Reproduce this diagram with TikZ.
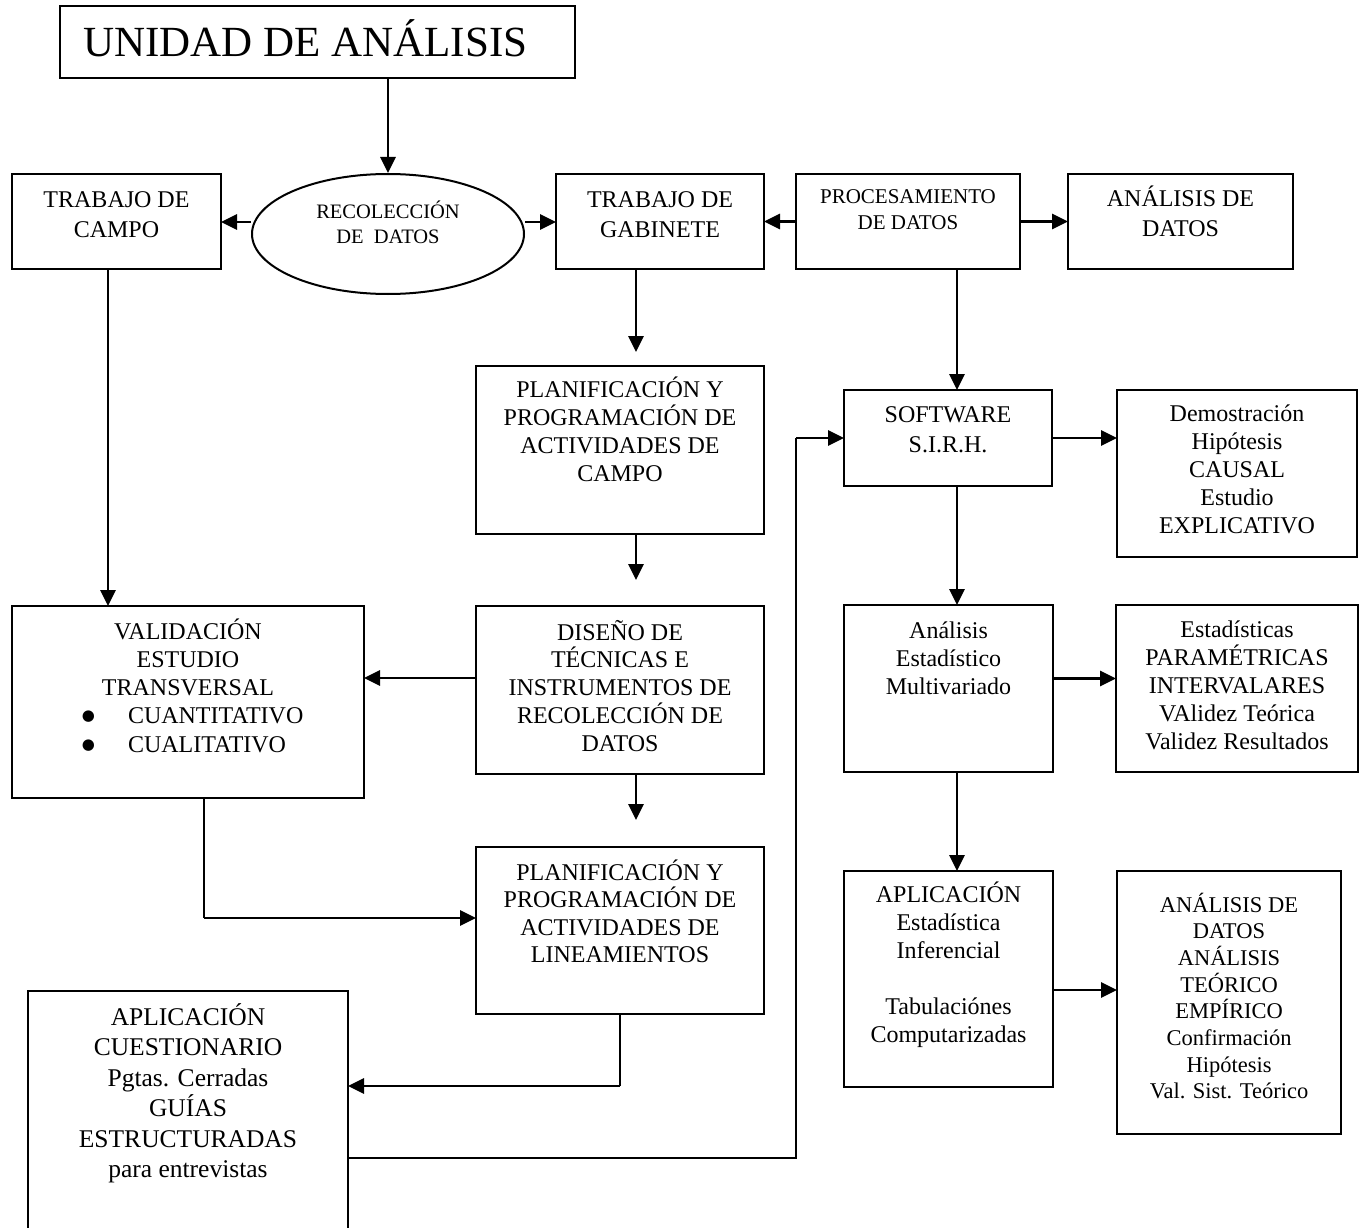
\documentclass[tikz,border=0pt]{standalone}
\usepackage{fontspec}
\setmainfont{Liberation Serif}
\newfontfamily\dotfont{DejaVu Sans}
\usetikzlibrary{arrows.meta,calc,shapes.geometric}

\tikzset{
  boxst/.style={draw, line width=2pt, inner sep=0pt, outer sep=0pt},
  arr/.style={line width=2.7pt, -{Triangle[length=16pt,width=15pt]}},
  conn/.style={line width=2pt},
}

% #1 name, #2 x1, #3 y1, #4 x2, #5 y2, #6 first baseline below top,
% #7 font size, #8 line skip, #9 text
\newcommand\tbox[9]{%
  \node[boxst, anchor=north west,
        minimum width={(#4-#2)*1pt}, minimum height={(#5-#3)*1pt}]
    (#1) at (#2,#3)
    {\begin{minipage}[t][\dimexpr #5pt-#3pt\relax][t]{\dimexpr #4pt-#2pt\relax}%
      \centering\fontsize{#7}{#8}\selectfont\rule{0pt}{#6pt}#9\end{minipage}};}

% list bullet used in the validation box
\newcommand\bigdot{\raisebox{3pt}{\dotfont\fontsize{15}{16}\selectfont ●}}

\begin{document}
\begin{tikzpicture}[x=1pt,y=-1pt]
\useasboundingbox (0,0) rectangle (1363,1228);
\clip (0,0) rectangle (1363,1228);

% title
\node[boxst, anchor=north west, minimum width=515pt, minimum height=72pt]
  (unidad) at (60,6)
  {\begin{minipage}[t][72pt][t]{515pt}\fontsize{43}{50}\selectfont
   \hspace*{23pt}\rule{0pt}{51pt}UNIDAD DE ANÁLISIS\end{minipage}};

% top row
\tbox{campo}{12}{174}{221}{269}{33}{24}{30}{TRABAJO DE\\CAMPO}
\node[draw, ellipse, line width=2pt, minimum width=272pt, minimum height=120pt,
      inner sep=0pt] (recol) at (388,234) {};
\node[anchor=base, inner sep=0pt] (recoltxt) at (388,218)
  {\parbox[t]{170pt}{\centering\fontsize{20.5}{25}\selectfont RECOLECCIÓN\\DE\ \ DATOS}};
\tbox{gab}{556}{174}{764}{269}{33}{24}{30}{TRABAJO DE\\GABINETE}
\tbox{proc}{796}{174}{1020}{269}{29}{21}{27}{PROCESAMIENTO\\DE DATOS}
\tbox{anal}{1068}{174}{1293}{269}{32}{24}{30}{ANÁLISIS DE\\DATOS}

% middle column
\tbox{plan1}{476}{366}{764}{534}{31}{24}{28.3}{PLANIFICACIÓN Y\\PROGRAMACIÓN DE\\ACTIVIDADES DE\\CAMPO}
\tbox{diseno}{476}{606}{764}{774}{34}{24}{27.8}{DISEÑO DE\\TÉCNICAS E\\INSTRUMENTOS DE\\RECOLECCIÓN DE\\DATOS}
\tbox{plan2}{476}{847}{764}{1014}{33}{24}{27.5}{PLANIFICACIÓN Y\\PROGRAMACIÓN DE\\ACTIVIDADES DE\\LINEAMIENTOS}

% left column
\tbox{valid}{12}{606}{364}{798}{33}{24}{28.3}{VALIDACIÓN\\ESTUDIO\\TRANSVERSAL\\
  \makebox[\linewidth][l]{\hspace*{70pt}\makebox[46pt][l]{\bigdot}CUANTITATIVO}\\
  \makebox[\linewidth][l]{\hspace*{70pt}\makebox[46pt][l]{\bigdot}CUALITATIVO}}
\tbox{cuest}{28}{991}{348}{1270}{34}{25.5}{30.5}{APLICACIÓN\\CUESTIONARIO\\Pgtas. Cerradas\\GUÍAS\\ESTRUCTURADAS\\para entrevistas}

% right columns
\tbox{soft}{844}{390}{1052}{486}{32}{24}{30}{SOFTWARE\\S.I.R.H.}
\tbox{demo}{1117}{390}{1357}{557}{31}{24}{28}{Demostración\\Hipótesis\\CAUSAL\\Estudio\\EXPLICATIVO}
\tbox{analest}{844}{605}{1053}{772}{33}{24}{28}{Análisis\\Estadístico\\Multivariado}
\tbox{estad}{1116}{605}{1358}{772}{32}{24}{28}{Estadísticas\\PARAMÉTRICAS\\INTERVALARES\\VAlidez Teórica\\Validez Resultados}
\tbox{aplic}{844}{871}{1053}{1087}{31}{24}{28}{APLICACIÓN\\Estadística\\Inferencial\\~\\Tabulaciónes\\Computarizadas}
\tbox{anal2}{1117}{871}{1341}{1134}{41}{22.5}{26.7}{ANÁLISIS DE\\DATOS\\ANÁLISIS\\TEÓRICO\\EMPÍRICO\\Confirmación\\Hipótesis\\Val. Sist. Teórico}

% routing columns and rows
\coordinate (cxa) at (636,0);
\coordinate (cxb) at (957,0);
\coordinate (cxc) at (108,0);
\coordinate (cxd) at (204,0);
\coordinate (cxe) at (796,0);
\coordinate (cya) at (0,918);
\coordinate (cyb) at (0,1086);
\coordinate (cyc) at (0,1158);

% connectors
\draw[arr] (unidad.south -| recol.north) -- (recol.north);
\draw[arr] ([yshift=12pt]recol.west) -- ([yshift=12pt]recol.west -| campo.east);
\draw[arr] ([yshift=12pt]recol.east) -- ([yshift=12pt]recol.east -| gab.west);
\draw[arr] (proc.west) -- (proc.west -| gab.east);
\draw[arr] (proc.east) -- (proc.east -| anal.west);

\draw[arr, shorten >=14pt] (gab.south -| cxa) -- (plan1.north -| cxa);
\draw[arr, shorten >=26pt] (plan1.south -| cxa) -- (diseno.north -| cxa);
\draw[arr, shorten >=27pt] (diseno.south -| cxa) -- (plan2.north -| cxa);
\draw[arr] ([yshift=12pt]diseno.west) -- ([yshift=12pt]diseno.west -| valid.east);

\draw[arr] (campo.south -| cxc) -- (valid.north -| cxc);
\draw[conn] (valid.south -| cxd) -- (cxd |- cya);
\draw[arr] (cxd |- cya) -- (plan2.west |- cya);

\draw[conn] (plan2.south) -- (plan2.south |- cyb);
\draw[arr] (plan2.south |- cyb) -- (cuest.east |- cyb);

\draw[conn] (cuest.east |- cyc) -- (cxe |- cyc) -- (cxe |- soft.west);
\draw[arr] (cxe |- soft.west) -- (soft.west);

\draw[arr] (proc.south -| cxb) -- (soft.north -| cxb);
\draw[arr] (soft.east) -- (soft.east -| demo.west);
\draw[arr] (soft.south -| cxb) -- (analest.north -| cxb);
\draw[arr] ([yshift=10pt]analest.east) -- ([yshift=10pt]analest.east -| estad.west);
\draw[arr] (analest.south -| cxb) -- (aplic.north -| cxb);
\draw[arr] ([yshift=-11pt]aplic.east) -- ([yshift=-11pt]aplic.east -| anal2.west);
\end{tikzpicture}
\end{document}
